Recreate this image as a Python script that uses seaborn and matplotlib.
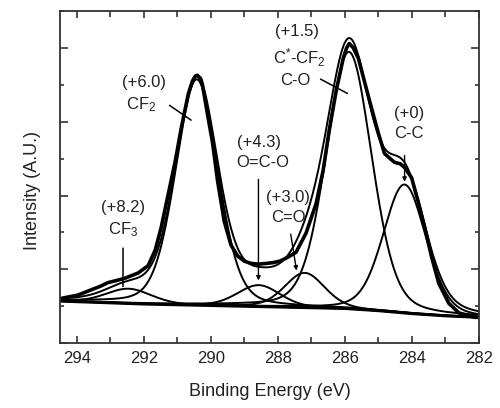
import numpy as np
import pandas as pd
import matplotlib
matplotlib.use("Agg")
import matplotlib.pyplot as plt
import seaborn as sns

data_E = [294.5, 294.42, 294.2, 293.97, 293.58, 293.3, 293.07, 292.8, 292.56, 292.17, 291.87,
          291.66, 291.48, 291.27, 291.06, 290.88, 290.67, 290.55, 290.46, 290.4, 290.3,
          290.25, 290.1, 289.95, 289.8, 289.6, 289.4, 289.2, 289.0, 288.8, 288.57,
          288.35, 288.15, 287.95, 287.76, 287.46, 287.16, 286.86, 286.65, 286.47,
          286.26, 286.05, 285.95, 285.87, 285.75, 285.6, 285.42, 285.21, 285.0, 284.82,
          284.65, 284.52, 284.35, 284.22, 284.01, 283.8, 283.62, 283.41, 283.2, 282.9,
          282.6, 282.3, 282.12, 282.0]
data_I = [0.60, 0.61, 0.63, 0.65, 0.72, 0.77, 0.82, 0.85, 0.88, 0.95, 1.05,
          1.26, 1.57, 2.02, 2.47, 2.92, 3.38, 3.55, 3.62, 3.63, 3.58,
          3.50, 3.10, 2.72, 2.20, 1.65, 1.33, 1.18, 1.11, 1.08, 1.07,
          1.08, 1.09, 1.11, 1.15, 1.23, 1.49, 1.89, 2.34, 2.88,
          3.42, 3.86, 4.00, 4.06, 4.00, 3.86, 3.55, 3.19, 2.84, 2.57,
          2.50, 2.45, 2.43, 2.38, 2.24, 1.89, 1.57, 1.16, 0.81, 0.54,
          0.41, 0.37, 0.35, 0.35]

# ---- background ----
bg_E = [294.5, 292.0, 290.0, 288.0, 286.0, 285.0, 284.0, 283.0, 282.0]
bg_I = [0.57, 0.53, 0.51, 0.49, 0.47, 0.44, 0.40, 0.37, 0.35]

# ---- fitted components: centre (eV), height above background, FWHM (eV) ----
comp_names = ["CF3", "CF2", "O=C-O", "C=O", "C*-CF2/C-O", "C-C"]
comp_center = [292.45, 290.42, 288.57, 287.20, 285.88, 284.22]
comp_height = [0.20, 3.06, 0.29, 0.47, 3.48, 1.74]
comp_fwhm = [1.60, 1.48, 1.50, 1.40, 1.60, 1.50]
lorentz_frac = 0.22

# ---- annotation labels ----
shift_labels = ["(+8.2)", "(+6.0)", "(+4.3)", "(+3.0)", "(+1.5)", "(+0)"]

sns.set_theme(style="ticks")
plt.rcParams["font.family"] = ["Liberation Sans", "DejaVu Sans"]
plt.rcParams["mathtext.fontset"] = "custom"
plt.rcParams["mathtext.rm"] = "Liberation Sans"
plt.rcParams["mathtext.it"] = "Liberation Sans:italic"
plt.rcParams["mathtext.bf"] = "Liberation Sans:bold"

fig = plt.figure(figsize=(5.0, 4.08), dpi=100)
ax = fig.add_axes([0.12, 0.159, 0.838, 0.814])

E = np.linspace(294.5, 282.0, 600)
bg = np.interp(E, bg_E[::-1], bg_I[::-1])


def pv(x, c, h, w, m):
    g = np.exp(-4 * np.log(2) * (x - c) ** 2 / w ** 2)
    l = 1.0 / (1.0 + 4 * (x - c) ** 2 / w ** 2)
    return h * ((1 - m) * g + m * l)


comps = [pv(E, c, h, w, lorentz_frac) for c, h, w in zip(comp_center, comp_height, comp_fwhm)]
env = bg + np.sum(comps, axis=0)

lw_thin = 1.4
col = "black"
# measured data (thick)
sns.lineplot(x=data_E, y=data_I, ax=ax, color=col, lw=2.6, sort=False)
# background
sns.lineplot(x=bg_E, y=bg_I, ax=ax, color=col, lw=2.2, sort=False)
# components
for name, y in zip(comp_names, comps):
    sns.lineplot(x=E, y=bg + y, ax=ax, color=col, lw=lw_thin, sort=False)
# envelope
sns.lineplot(x=E, y=env, ax=ax, color=col, lw=lw_thin, sort=False)

ax.set_xlim(294.5, 282)
ax.set_ylim(0, 4.5)
ax.set_xticks([294, 292, 290, 288, 286, 284, 282])
ax.set_xticks(np.arange(282, 295, 1), minor=True)
ax.set_yticks([0, 1, 2, 3, 4])
ax.set_yticks([0.5, 1.5, 2.5, 3.5, 4.5], minor=True)
ax.set_yticklabels([])
ax.tick_params(axis="both", which="both", direction="in", top=True, right=True,
               color="#333333", width=1.2)
ax.tick_params(axis="x", which="major", length=5, labelsize=12, pad=6, labelcolor="#222222")
ax.tick_params(axis="x", which="minor", length=4)
ax.tick_params(axis="y", which="major", length=6)
ax.tick_params(axis="y", which="minor", length=3)
for s in ax.spines.values():
    s.set_color("#333333")
    s.set_linewidth(1.3)

ax.set_xlabel("Binding Energy (eV)", fontsize=13, labelpad=12, color="#222222")
ax.set_ylabel("Intensity (A.U.)", fontsize=13, color="#222222")
ax.yaxis.set_label_coords(-0.045, 0.46)


def py(p):
    return (343 - p) / 74


fs = 12
tc = "#222222"
# CF3
ax.text(292.63, py(207), shift_labels[0], ha="center", va="center", fontsize=fs, color=tc)
ax.text(292.63, py(229), "CF$_3$", ha="center", va="center", fontsize=fs, color=tc)
ax.annotate("", xy=(292.62, py(289)), xytext=(292.62, py(245)),
            arrowprops=dict(arrowstyle="-", color=col, lw=1.1))
# CF2
ax.text(292.0, py(82), shift_labels[1], ha="center", va="center", fontsize=fs, color=tc)
ax.text(292.08, py(104), "CF$_2$", ha="center", va="center", fontsize=fs, color=tc)
ax.annotate("", xy=(290.52, py(121)), xytext=(291.3, py(103)),
            arrowprops=dict(arrowstyle="-", color=col, lw=1.1))
# O=C-O
ax.text(288.56, py(142), shift_labels[2], ha="center", va="center", fontsize=fs, color=tc)
ax.text(288.46, py(162), "O=C-O", ha="center", va="center", fontsize=fs, color=tc)
ax.annotate("", xy=(288.58, py(283)), xytext=(288.58, py(176)),
            arrowprops=dict(arrowstyle="-|>", color=col, lw=1.0, mutation_scale=6))
# C=O
ax.text(287.71, py(197), shift_labels[3], ha="center", va="center", fontsize=fs, color=tc)
ax.text(287.69, py(217), "C=O", ha="center", va="center", fontsize=fs, color=tc)
ax.annotate("", xy=(287.43, py(273)), xytext=(287.63, py(231)),
            arrowprops=dict(arrowstyle="-|>", color=col, lw=1.0, mutation_scale=6))
# C*-CF2 / C-O
ax.text(287.44, py(31), shift_labels[4], ha="center", va="center", fontsize=fs, color=tc)
ax.text(287.37, py(57), "C$^{*}$-CF$_2$", ha="center", va="center", fontsize=fs, color=tc)
ax.text(287.49, py(80), "C-O", ha="center", va="center", fontsize=fs, color=tc)
ax.annotate("", xy=(285.85, py(94)), xytext=(286.8, py(77)),
            arrowprops=dict(arrowstyle="-", color=col, lw=1.1))
# C-C
ax.text(284.08, py(113), shift_labels[5], ha="center", va="center", fontsize=fs, color=tc)
ax.text(284.08, py(133), "C-C", ha="center", va="center", fontsize=fs, color=tc)
ax.annotate("", xy=(284.22, py(184)), xytext=(284.22, py(152)),
            arrowprops=dict(arrowstyle="-|>", color=col, lw=1.0, mutation_scale=6))

fig.savefig("out.png", dpi=100)
